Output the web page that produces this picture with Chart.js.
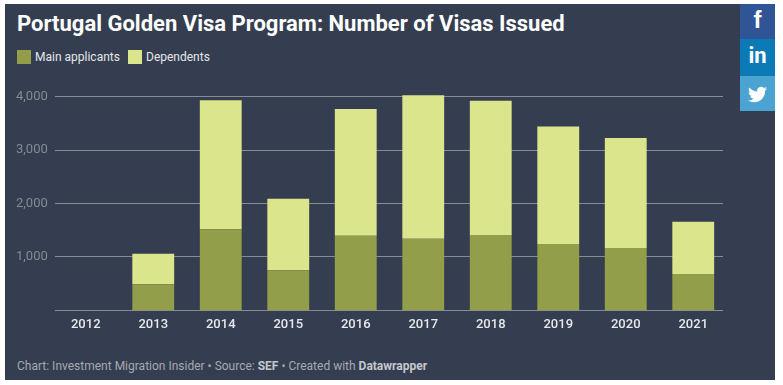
<!DOCTYPE html>
<html>
<head>
<meta charset="utf-8">
<script src="https://cdn.jsdelivr.net/npm/chart.js@4"></script>
<style>
    html, body { margin: 0; padding: 0; background: #fff; }
    body { width: 783px; height: 385px; overflow: hidden; position: relative; font-family: Roboto, sans-serif; }
    #painel { position: absolute; left: 5px; top: 4px; width: 770px; height: 376px; background: #343e50; }
    #titulo { position: absolute; left: 17px; top: 9px; color: #fff; font-size: 22px; font-weight: 700; line-height: 30px; white-space: nowrap; }
    #legenda { position: absolute; left: 17px; top: 49px; color: #e4e6ea; font-size: 12px; line-height: 16px; white-space: nowrap; }
    #legenda span { position: absolute; top: 0; }
    #legenda i { position: absolute; top: 1px; width: 14px; height: 14px; }
    #rodape { position: absolute; left: 17px; top: 358px; color: #a4a9b2; font-size: 12px; line-height: 16px; white-space: nowrap; }
    #rodape b { color: #c4c7cd; }
    #area { position: absolute; left: 0; top: 80px; width: 783px; height: 260px; }
    .social { position: absolute; left: 740px; width: 35px; color: #fff; font-weight: 700; text-align: center; }
    .social svg { display: block; margin: 9px auto 0; }
</style>
</head>
<body>
<div id="painel"></div>
<div id="titulo">Portugal Golden Visa Program: Number of Visas Issued</div>
<div id="legenda"></div>
<div id="area"><canvas id="grafico" width="783" height="260"></canvas></div>
<div id="rodape">Chart: Investment Migration Insider • Source: <b>SEF</b> • Created with <b>Datawrapper</b></div>
<div class="social" style="top:4px;height:35px;background:#2f5596;font-family:'Liberation Sans',sans-serif;font-size:24px;line-height:31px;">f</div>
<div class="social" style="top:39px;height:37px;background:#0b7ab5;font-size:22px;line-height:33px;">in</div>
<div class="social" style="top:76px;height:35px;background:#4aa3d1;"><svg width="19" height="19" viewBox="0 0 24 24" fill="#fff"><path d="M23.953 4.57a10 10 0 01-2.825.775 4.958 4.958 0 002.163-2.723c-.951.555-2.005.959-3.127 1.184a4.92 4.92 0 00-8.384 4.482C7.69 8.095 4.067 6.13 1.64 3.162a4.822 4.822 0 00-.666 2.475c0 1.71.87 3.213 2.188 4.096a4.904 4.904 0 01-2.228-.616v.06a4.923 4.923 0 003.946 4.827 4.996 4.996 0 01-2.212.085 4.936 4.936 0 004.604 3.417 9.867 9.867 0 01-6.102 2.105c-.39 0-.779-.023-1.17-.067a13.995 13.995 0 007.557 2.209c9.053 0 13.998-7.496 13.998-13.985 0-.21 0-.42-.015-.63A9.935 9.935 0 0024 4.59z"/></svg></div>

<script>
const anos = ['2012', '2013', '2014', '2015', '2016', '2017', '2018', '2019', '2020', '2021'];
const principais = [0, 490, 1520, 750, 1400, 1340, 1410, 1245, 1170, 680];
const dependentes = [0, 570, 2415, 1340, 2370, 2690, 2515, 2200, 2060, 980];
const nomesSeries = ['Main applicants', 'Dependents'];
const coresSeries = ['#939e4a', '#dae58c'];
const marcasY = [1000, 2000, 3000, 4000];

// legenda feita em html para ficar no mesmo lugar do original
const legenda = document.getElementById('legenda');
const posicoes = [[0, 18], [111, 129]];
nomesSeries.forEach(function (nome, i) {
    legenda.innerHTML += `<i style="left:${posicoes[i][0]}px;background:${coresSeries[i]}"></i>` +
        `<span style="left:${posicoes[i][1]}px">${nome}</span>`;
});

// as linhas do original sao um pouco mais curtas que a area das barras
const linhasCurtas = {
    id: 'linhasCurtas',
    beforeDatasetsDraw: function (chart) {
        const ctx = chart.ctx;
        const area = chart.chartArea;
        ctx.save();
        ctx.lineWidth = 1;
        ctx.strokeStyle = '#868b96';
        [0].concat(marcasY).forEach(function (v) {
            const y = Math.floor(chart.scales.y.getPixelForValue(v)) + 0.5;
            ctx.beginPath();
            ctx.moveTo(area.left + 3, y);
            ctx.lineTo(area.right - 4, y);
            ctx.stroke();
        });
        ctx.restore();
    }
};

const config_visas = {
    type: 'bar',
    data: {
        labels: anos,
        datasets: [
            { label: nomesSeries[0], data: principais, backgroundColor: coresSeries[0], categoryPercentage: 1, barPercentage: 0.62 },
            { label: nomesSeries[1], data: dependentes, backgroundColor: coresSeries[1], categoryPercentage: 1, barPercentage: 0.62 }
        ]
    },
    options: {
        responsive: false,
        animation: false,
        layout: { padding: { top: 0, right: 56, bottom: 0, left: 16 } },
        plugins: { legend: { display: false }, tooltip: { enabled: false } },
        scales: {
            x: {
                stacked: true,
                grid: { display: false, drawTicks: false },
                border: { display: false },
                ticks: { color: '#e6e8eb', padding: 7, maxRotation: 0, font: { family: 'Roboto', size: 13, weight: '500' } }
            },
            y: {
                stacked: true,
                min: 0,
                max: 4168,
                afterBuildTicks: function (eixo) {
                    eixo.ticks = marcasY.map(function (v) { return { value: v }; });
                },
                afterFit: function (eixo) { eixo.width = 36; },
                grid: { display: false, drawTicks: false },
                border: { display: false },
                ticks: {
                    color: '#858a94',
                    crossAlign: 'far',
                    padding: 0,
                    font: { family: 'Roboto', size: 13 },
                    callback: function (v) { return v.toLocaleString('en-US'); }
                }
            }
        }
    },
    plugins: [linhasCurtas]
};

const grafico = new Chart(document.getElementById('grafico'), config_visas);
</script>
</body>
</html>
